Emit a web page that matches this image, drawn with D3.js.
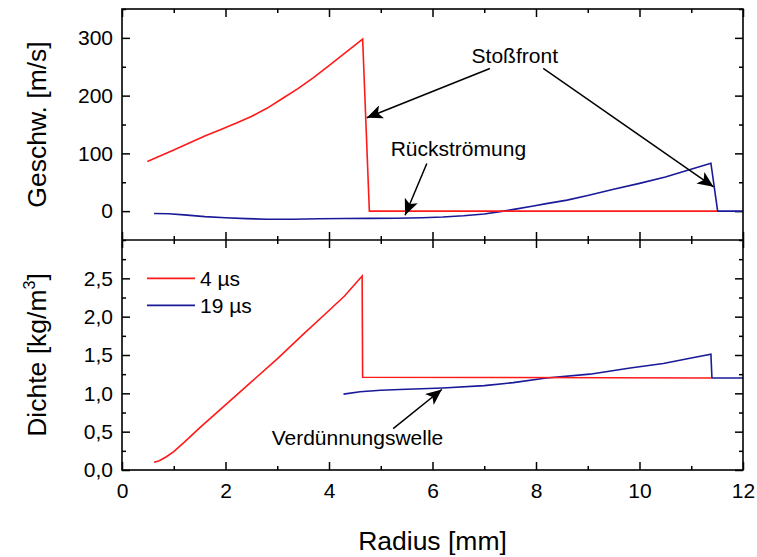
<!DOCTYPE html>
<html lang="de">
<head>
    <meta charset="UTF-8">
    <title>Geschwindigkeit und Dichte</title>
    <script src="https://d3js.org/d3.v7.min.js"></script>
    <style>
        body { margin: 0; background: #fff; }
        svg { font-family: "Liberation Sans", Arial, sans-serif; }
        .tick text { font-size: 21px; fill: #000; }
        .tick line { stroke: #000; stroke-width: 1.5; }
        .annot { font-size: 21px; fill: #000; }
        .title { font-size: 26.5px; fill: #000; }
    </style>
</head>
<body>
<svg id="chart" width="757" height="557"></svg>
<script>
    // radius [mm], value pairs
    const vel4us = [[0.49, 86], [0.7, 94], [1.0, 106], [1.3, 118], [1.6, 130], [1.9, 141],
        [2.2, 152], [2.5, 164], [2.8, 178], [3.1, 195], [3.4, 212], [3.7, 231], [4.0, 252],
        [4.3, 273], [4.65, 298], [4.78, 0], [11.5, 0]];
    const vel19us = [[0.62, -4], [0.9, -4.5], [1.2, -6.5], [1.6, -9.5], [2.0, -11.5],
        [2.4, -13], [2.8, -14], [3.3, -14], [3.8, -13.3], [4.3, -12.8], [4.8, -12.6],
        [5.3, -12.4], [5.8, -11.6], [6.2, -10.2], [6.6, -8], [7.0, -5], [7.37, 0], [7.6, 3.5],
        [7.95, 9], [8.2, 13], [8.6, 19], [9.0, 27], [9.5, 38], [10.0, 48], [10.5, 59],
        [10.9, 70], [11.38, 83], [11.51, 0], [12, 0]];
    const dens4us = [[0.62, 0.10], [0.72, 0.12], [0.85, 0.17], [1.0, 0.24], [1.2, 0.36],
        [1.5, 0.55], [2.0, 0.85], [2.5, 1.15], [3.0, 1.45], [3.5, 1.77], [4.0, 2.08],
        [4.3, 2.27], [4.64, 2.53], [4.65, 1.21], [11.39, 1.2]];
    const dens19us = [[4.28, 0.99], [4.6, 1.02], [5.0, 1.04], [5.37, 1.05], [6.2, 1.07],
        [7.0, 1.1], [7.56, 1.14], [8.2, 1.2], [9.04, 1.25], [9.82, 1.33], [10.46, 1.39],
        [11.0, 1.46], [11.38, 1.51], [11.4, 1.2], [12, 1.2]];

    const xMajor = [0, 2, 4, 6, 8, 10, 12];
    const xMinor = [1, 3, 5, 7, 9, 11];
    const velMajor = [0, 100, 200, 300];
    const velMinor = [-50, 50, 150, 250, 350];
    const densMajor = [0, 0.5, 1.0, 1.5, 2.0, 2.5];
    const densMinor = [0.25, 0.75, 1.25, 1.75, 2.25, 2.75];

    const seriesNames = ["4 µs", "19 µs"];
    const seriesColors = ["#ff1a1a", "#1a1a99"];

    const svg = d3.select("#chart");
    const mLeft = 122, mRight = 743, mTop = 9, mMid = 240, mBottom = 470;

    const x = d3.scaleLinear().domain([0, 12]).range([mLeft, mRight]);
    const yVel = d3.scaleLinear().domain([-50, 350]).range([mMid, mTop]);
    const yDens = d3.scaleLinear().domain([0, 3]).range([mBottom, mMid]);

    const comma = d => d3.format(".1f")(d).replace(".", ",");

    function drawAxes(y, yTop, yBottom, major, minor, fmt, showX) {
        // x ticks, bottom and top of the panel, pointing inward
        svg.append("g").attr("transform", `translate(0,${yBottom})`)
            .call(d3.axisBottom(x).tickValues(xMajor).tickSize(-8).tickPadding(13)
                .tickFormat(showX ? d3.format("d") : ""));
        svg.append("g").attr("transform", `translate(0,${yBottom})`)
            .call(d3.axisBottom(x).tickValues(xMinor).tickSize(-4).tickFormat(""));
        svg.append("g").attr("transform", `translate(0,${yTop})`)
            .call(d3.axisTop(x).tickValues(xMajor).tickSize(-8).tickFormat(""));
        svg.append("g").attr("transform", `translate(0,${yTop})`)
            .call(d3.axisTop(x).tickValues(xMinor).tickSize(-4).tickFormat(""));
        // y ticks left and right
        svg.append("g").attr("transform", `translate(${mLeft},0)`)
            .call(d3.axisLeft(y).tickValues(major).tickSize(-8).tickPadding(9).tickFormat(fmt));
        svg.append("g").attr("transform", `translate(${mLeft},0)`)
            .call(d3.axisLeft(y).tickValues(minor).tickSize(-4).tickFormat(""));
        svg.append("g").attr("transform", `translate(${mRight},0)`)
            .call(d3.axisRight(y).tickValues(major).tickSize(-8).tickFormat(""));
        svg.append("g").attr("transform", `translate(${mRight},0)`)
            .call(d3.axisRight(y).tickValues(minor).tickSize(-4).tickFormat(""));
    }

    drawAxes(yVel, mTop, mMid, velMajor, velMinor, d3.format("d"), false);
    drawAxes(yDens, mMid, mBottom, densMajor, densMinor, comma, true);
    svg.selectAll(".domain").remove();

    // lines
    const lineVel = d3.line().x(d => x(d[0])).y(d => yVel(d[1]));
    const lineDens = d3.line().x(d => x(d[0])).y(d => yDens(d[1]));

    [[vel19us, 1], [vel4us, 0]].forEach(([data, i]) => {
        svg.append("path").attr("d", lineVel(data)).attr("fill", "none")
            .attr("stroke", seriesColors[i]).attr("stroke-width", 1.6);
    });
    [[dens19us, 1], [dens4us, 0]].forEach(([data, i]) => {
        svg.append("path").attr("d", lineDens(data)).attr("fill", "none")
            .attr("stroke", seriesColors[i]).attr("stroke-width", 1.6);
    });

    // frame
    svg.append("rect").attr("x", mLeft).attr("y", mTop)
        .attr("width", mRight - mLeft).attr("height", mBottom - mTop)
        .attr("fill", "none").attr("stroke", "#000").attr("stroke-width", 1.6);
    svg.append("line").attr("x1", mLeft).attr("x2", mRight).attr("y1", mMid).attr("y2", mMid)
        .attr("stroke", "#000").attr("stroke-width", 1.6);

    // axis titles
    svg.append("text").attr("class", "title")
        .attr("x", (mLeft + mRight) / 2).attr("y", 550)
        .attr("text-anchor", "middle").text("Radius [mm]");
    svg.append("text").attr("class", "title")
        .attr("transform", `translate(46,${(mTop + mMid) / 2}) rotate(-90)`)
        .attr("text-anchor", "middle").text("Geschw. [m/s]");
    const dt = svg.append("text").attr("class", "title")
        .attr("transform", `translate(46,${(mMid + mBottom) / 2}) rotate(-90)`)
        .attr("text-anchor", "middle");
    dt.append("tspan").text("Dichte [kg/m");
    dt.append("tspan").attr("font-size", "16px").attr("dy", "-11").text("3");
    dt.append("tspan").attr("dy", "11").text("]");

    // legend
    const legend = svg.append("g");
    seriesNames.forEach((name, i) => {
        const yy = yDens(2.5) + i * 27;
        legend.append("line").attr("x1", 147).attr("x2", 195).attr("y1", yy).attr("y2", yy)
            .attr("stroke", seriesColors[i]).attr("stroke-width", 1.6);
        legend.append("text").attr("class", "annot").attr("x", 200).attr("y", yy)
            .attr("dy", "0.35em").text(name);
    });

    // arrows
    svg.append("defs").append("marker")
        .attr("id", "head").attr("markerUnits", "userSpaceOnUse")
        .attr("markerWidth", 18).attr("markerHeight", 14)
        .attr("refX", 16).attr("refY", 7).attr("orient", "auto")
        .append("path").attr("d", "M0,0 L16,7 L0,14 L4,7 Z").attr("fill", "#000");

    function arrow(y, from, to) {
        svg.append("line")
            .attr("x1", x(from[0])).attr("y1", y(from[1]))
            .attr("x2", x(to[0])).attr("y2", y(to[1]))
            .attr("stroke", "#000").attr("stroke-width", 1.5)
            .attr("marker-end", "url(#head)");
    }
    function label(y, pos, txt) {
        svg.append("text").attr("class", "annot")
            .attr("x", x(pos[0])).attr("y", y(pos[1]))
            .attr("text-anchor", "middle").text(txt);
    }

    label(yVel, [7.59, 256], "Stoßfront");
    arrow(yVel, [7.11, 247], [4.73, 161.6]);
    arrow(yVel, [8.14, 247], [11.43, 42]);
    label(yVel, [6.5, 95], "Rückströmung");
    arrow(yVel, [5.89, 82.6], [5.47, -7]);
    label(yDens, [4.55, 0.33], "Verdünnungswelle");
    arrow(yDens, [5.24, 0.54], [6.18, 1.05]);
</script>
</body>
</html>
